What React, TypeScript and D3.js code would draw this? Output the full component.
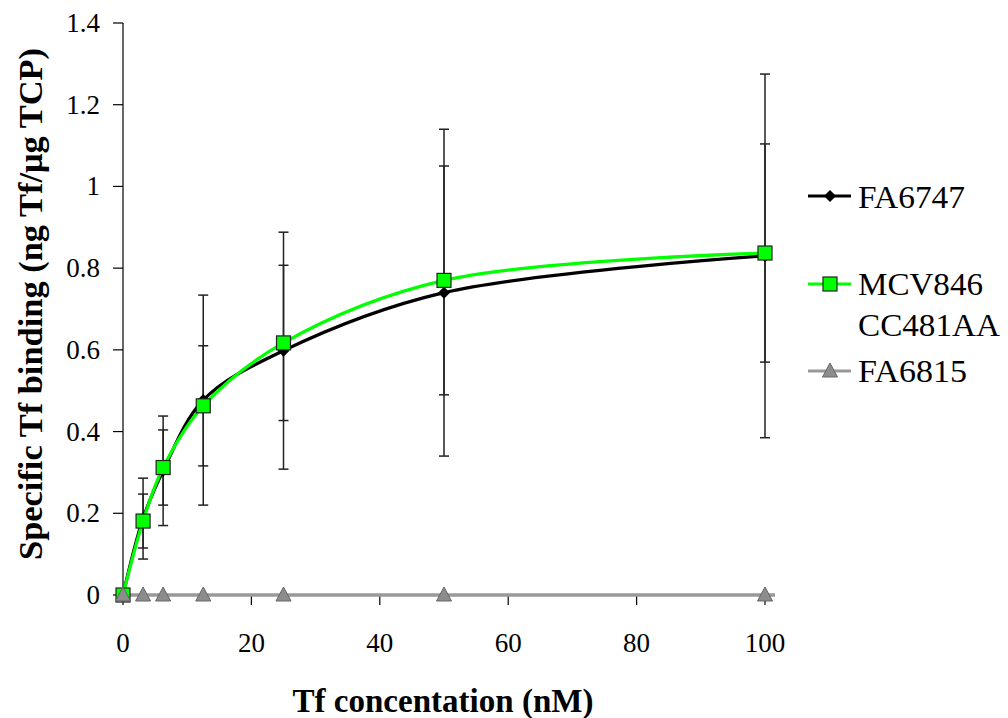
import React from "react";
import * as d3 from "d3";

const concentrations = [0, 3.125, 6.25, 12.5, 25, 50, 100];
const fa6747Values = [0, 0.187, 0.304, 0.477, 0.598, 0.74, 0.83];
const fa6747Errors = [0, 0.099, 0.134, 0.257, 0.29, 0.4, 0.445];
const mcv846Values = [0, 0.181, 0.312, 0.463, 0.617, 0.77, 0.837];
const mcv846Errors = [0, 0.066, 0.092, 0.147, 0.19, 0.28, 0.267];
const fa6815Values = [0, 0, 0, 0, 0, 0, 0];
const xTicks = [0, 20, 40, 60, 80, 100];
const yTicks = [0, 0.2, 0.4, 0.6, 0.8, 1, 1.2, 1.4];
const legendLabels = [["FA6747"], ["MCV846", "CC481AA"], ["FA6815"]];

const W = 1008;
const H = 718;
const FAM = "'Liberation Serif', serif";

export default function App() {
  const x = d3.scaleLinear().domain([0, 100]).range([123, 765]);
  const y = d3.scaleLinear().domain([0, 1.4]).range([595, 23]);

  const line = d3
    .line<number>()
    .x((_, i) => x(concentrations[i]))
    .y((d) => y(d))
    .curve(d3.curveCatmullRom.alpha(0.5));

  const errorBars = (vals: number[], errs: number[], key: string) =>
    vals.map((v, i) => {
      if (!errs[i]) return null;
      const cx = x(concentrations[i]);
      const y1 = y(v + errs[i]);
      const y2 = y(v - errs[i]);
      return (
        <g key={key + i} stroke="#222" strokeWidth={1.5}>
          <line x1={cx} x2={cx} y1={y1} y2={y2} />
          <line x1={cx - 5} x2={cx + 5} y1={y1} y2={y1} />
          <line x1={cx - 5} x2={cx + 5} y1={y2} y2={y2} />
        </g>
      );
    });

  const diamond = (cx: number, cy: number, k: string) => (
    <path key={k} d={`M${cx},${cy - 6}L${cx + 6},${cy}L${cx},${cy + 6}L${cx - 6},${cy}Z`} fill="#000" />
  );
  const square = (cx: number, cy: number, k: string) => (
    <rect key={k} x={cx - 7} y={cy - 7} width={14} height={14} fill="#00ff00" stroke="#222" strokeWidth={1.2} />
  );
  const triangle = (cx: number, cy: number, k: string) => (
    <path key={k} d={`M${cx},${cy - 8}L${cx + 7.5},${cy + 6}L${cx - 7.5},${cy + 6}Z`} fill="#8c8c8c" stroke="#666" strokeWidth={1} />
  );

  const legendY = [196, 284, 371];
  const legendBaselines = [[208], [295, 336], [382]];
  const legendWidths = [[107], [125, 142], [109]];

  return (
    <svg width={W} height={H} style={{ position: "absolute", left: 0, top: 0, background: "#fff" }}>
      <rect width={W} height={H} fill="#fff" />
      {/* axes */}
      <line x1={123} x2={123} y1={y(1.4)} y2={y(0)} stroke="#000" strokeWidth={1.2} />
      <line x1={123} x2={775} y1={y(0)} y2={y(0)} stroke="#000" strokeWidth={1.2} />
      {yTicks.map((t) => (
        <g key={"yt" + t}>
          <line x1={113} x2={123} y1={y(t)} y2={y(t)} stroke="#000" strokeWidth={1.2} />
          <text x={100} y={y(t) + 9} textAnchor="end" fontSize={27} style={{ fontFamily: FAM }}>
            {String(t)}
          </text>
        </g>
      ))}
      {xTicks.map((t) => (
        <g key={"xt" + t}>
          <line x1={x(t)} x2={x(t)} y1={y(0)} y2={y(0) + 10} stroke="#000" strokeWidth={1.2} />
          <text x={x(t)} y={652} textAnchor="middle" fontSize={27} style={{ fontFamily: FAM }}>
            {String(t)}
          </text>
        </g>
      ))}
      <text x={443} y={712} textAnchor="middle" fontSize={33} fontWeight="bold" textLength={301} lengthAdjust="spacingAndGlyphs" style={{ fontFamily: FAM }}>
        Tf concentation (nM)
      </text>
      <text
        transform="translate(42,304) rotate(-90)"
        textAnchor="middle"
        fontSize={33}
        fontWeight="bold"
        textLength={512}
        lengthAdjust="spacingAndGlyphs"
        style={{ fontFamily: FAM }}
      >
        Specific Tf binding (ng Tf/μg TCP)
      </text>

      {errorBars(fa6747Values, fa6747Errors, "eb1")}
      {errorBars(mcv846Values, mcv846Errors, "eb2")}

      <path d={line(fa6747Values) || ""} fill="none" stroke="#000" strokeWidth={3.2} />
      <path d={line(mcv846Values) || ""} fill="none" stroke="#00ff00" strokeWidth={3.2} />
      <path d={`M${x(0)},${y(0)}H775`} fill="none" stroke="#999" strokeWidth={3.6} />

      {fa6747Values.map((v, i) => diamond(x(concentrations[i]), y(v), "d" + i))}
      {mcv846Values.map((v, i) => square(x(concentrations[i]), y(v), "s" + i))}
      {fa6815Values.map((v, i) => triangle(x(concentrations[i]), y(v), "t" + i))}

      <g>
        <line x1={808} x2={851} y1={legendY[0]} y2={legendY[0]} stroke="#000" strokeWidth={3.2} />
        {diamond(830, legendY[0], "ld")}
        <line x1={808} x2={851} y1={legendY[1]} y2={legendY[1]} stroke="#00ff00" strokeWidth={3.2} />
        {square(830, legendY[1], "ls")}
        <line x1={808} x2={851} y1={legendY[2]} y2={legendY[2]} stroke="#999" strokeWidth={3.2} />
        {triangle(830, legendY[2], "lt")}
        {legendLabels.map((lines, i) =>
          lines.map((txt, j) => (
            <text
              key={"lg" + i + j}
              x={858}
              y={legendBaselines[i][j]}
              fontSize={32}
              textLength={legendWidths[i][j]}
              lengthAdjust="spacingAndGlyphs"
              style={{ fontFamily: FAM }}
            >
              {txt}
            </text>
          ))
        )}
      </g>
    </svg>
  );
}
